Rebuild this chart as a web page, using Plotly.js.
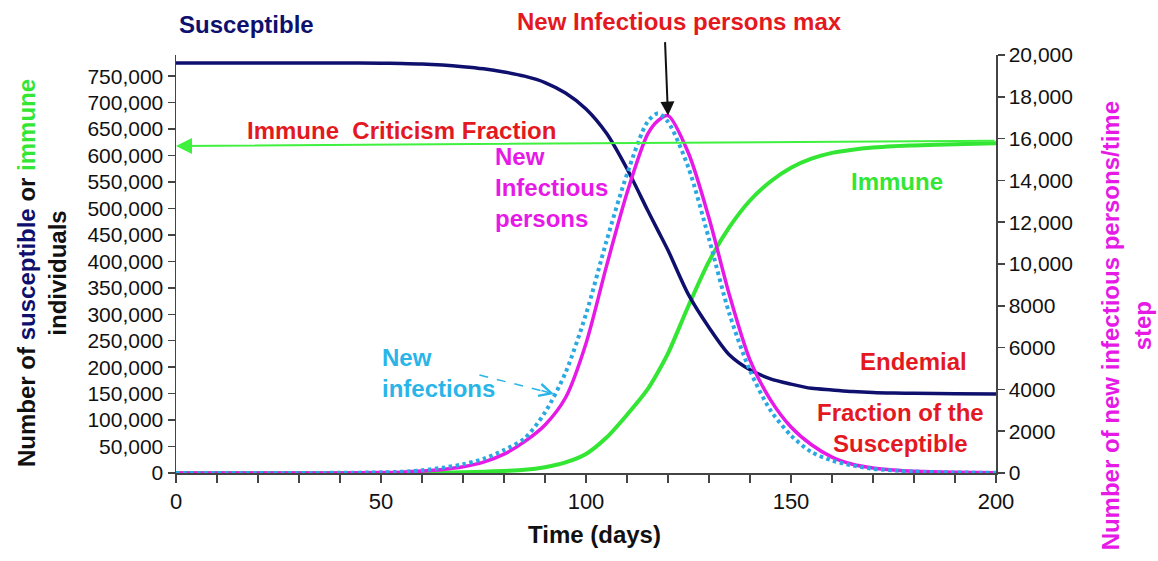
<!DOCTYPE html>
<html>
<head>
<meta charset="utf-8">
<script src="https://cdn.plot.ly/plotly-3.0.1.min.js"></script>
<style>
  html, body { margin: 0; padding: 0; background: #ffffff; }
  #chart { width: 1158px; height: 561px; }
</style>
</head>
<body>
<div id="chart"></div>
<script>
// ---- data ----
const days = [0, 10, 20, 30, 40, 50, 55, 60, 65, 70, 75, 80, 85, 90, 95, 100, 105, 110, 115, 117.5, 120,
              125, 130, 135, 140, 145, 150, 155, 160, 165, 170, 175, 180, 190, 200];

// left axis: number of individuals
const susceptible = [775000, 775000, 775000, 775000, 775000, 774500, 774000, 773000, 771000, 768000,
                     764000, 758000, 750000, 738000, 718000, 688000, 642000, 575000, 497000, 459000, 421000,
                     337000, 275000, 223000, 195000, 178000, 168000, 160000, 157000, 154000, 152000,
                     151000, 150500, 150000, 149500];
const immune = [0, 0, 0, 0, 0, 0, 200, 400, 800, 1500, 2500, 4000, 6000, 11000, 20000, 36000, 67000,
                110000, 158000, 190000, 226000, 316000, 400000, 465000, 515000, 551000, 577000, 594000, 605000,
                611000, 615000, 617500, 619000, 621500, 623000];

// right axis: new persons per time step
const newInfectiousPersons = [0, 0, 0, 0, 5, 20, 40, 90, 170, 300, 520, 900, 1500, 2300, 3600, 6200,
                              9900, 13400, 16200, 16850, 17100, 15300, 12200, 8500, 5400, 3500, 2200, 1350,
                              760, 420, 240, 140, 80, 30, 10];
const newInfections = [0, 0, 0, 0, 10, 30, 60, 130, 250, 420, 680, 1100, 1650, 2900, 4800, 7600, 11100,
                       14300, 16800, 17200, 16800, 14600, 11200, 7600, 4900, 3000, 1800, 1000, 600, 360, 200,
                       120, 70, 25, 10];

// herd-immunity ("Immune Criticism Fraction") reference line, left axis
const criticalFractionDays = [0, 200];
const criticalFractionValues = [618000, 628000];

// pointer to the "New infections" curve (right axis)
const newInfectionsPointerDays = [74, 92.2];
const newInfectionsPointerValues = [4690, 3780];

// tick labels
const xTickVals = [0, 50, 100, 150, 200];
const xTickText = ['0', '50', '100', '150', '200'];
const rightTickVals = [0, 2000, 4000, 6000, 8000, 10000, 12000, 14000, 16000, 18000, 20000];
const rightTickText = ['0', '2000', '4000', '6000', '8000', '10,000', '12,000', '14,000', '16,000', '18,000', '20,000'];

// ---- styling ----
const NAVY = '#0f0f6e';
const GREEN = '#33e633';
const MAGENTA = '#e619e6';
const BLUE = '#2aa8e2';
const RED = '#e3191f';
const FONT = 'Liberation Sans, Arial, Helvetica, sans-serif';

const traces = [
  { x: days, y: immune, type: 'scatter', mode: 'lines', name: 'Immune',
    line: { color: GREEN, width: 4, shape: 'spline', smoothing: 0.8 }, yaxis: 'y' },
  { x: days, y: susceptible, type: 'scatter', mode: 'lines', name: 'Susceptible',
    line: { color: NAVY, width: 3.5, shape: 'spline', smoothing: 0.8 }, yaxis: 'y' },
  { x: days, y: newInfectiousPersons, type: 'scatter', mode: 'lines', name: 'New Infectious persons',
    line: { color: MAGENTA, width: 3.5, shape: 'spline', smoothing: 0.8 }, yaxis: 'y2' },
  { x: days, y: newInfections, type: 'scatter', mode: 'lines', name: 'New infections',
    line: { color: BLUE, width: 4, dash: '3.5px,3.5px', shape: 'spline', smoothing: 0.8 }, yaxis: 'y2' }
];

// peak of new infectious persons (for the "max" arrow)
let peakIdx = 0;
newInfectiousPersons.forEach((v, i) => { if (v > newInfectiousPersons[peakIdx]) peakIdx = i; });

const bold = (s, c) => ({ text: '<b>' + s + '</b>', font: { family: FONT, size: 24, color: c } });

const annotations = [
  Object.assign({ xref: 'x', yref: 'paper', x: 17.1, y: 1.072, showarrow: false,
    xanchor: 'center', yanchor: 'middle' }, bold('Susceptible', NAVY)),
  Object.assign({ xref: 'x', yref: 'paper', x: 122.9, y: 1.079, showarrow: false,
    xanchor: 'center', yanchor: 'middle' }, bold('New Infectious persons max', RED)),
  // arrow to peak
  { xref: 'x', yref: 'y2', x: days[peakIdx], y: newInfectiousPersons[peakIdx], text: '',
    showarrow: true, ax: -3, ay: -75, arrowhead: 2, arrowsize: 1.4, arrowwidth: 2, arrowcolor: '#111' },
  Object.assign({ xref: 'x', yref: 'y', x: 54.9, y: 648000, showarrow: false,
    xanchor: 'center', yanchor: 'middle' }, bold('Immune&nbsp;&nbsp;Criticism Fraction', RED)),
  // critical fraction arrow line
  { xref: 'x', yref: 'y', axref: 'x', ayref: 'y',
    x: criticalFractionDays[0], y: criticalFractionValues[0],
    ax: criticalFractionDays[1], ay: criticalFractionValues[1], text: '',
    showarrow: true, arrowhead: 2, arrowsize: 1.6, arrowwidth: 2, arrowcolor: '#3ff03f' },
  Object.assign({ xref: 'x', yref: 'y', x: 77.3, y: 540000, showarrow: false,
    xanchor: 'left', yanchor: 'middle', align: 'left' }, bold('New<br>Infectious<br>persons', MAGENTA)),
  Object.assign({ xref: 'x', yref: 'y', x: 175.9, y: 550000, showarrow: false,
    xanchor: 'center', yanchor: 'middle' }, bold('Immune', GREEN)),
  Object.assign({ xref: 'x', yref: 'y', x: 179.8, y: 210000, showarrow: false,
    xanchor: 'center', yanchor: 'middle' }, bold('Endemial', RED)),
  Object.assign({ xref: 'x', yref: 'y', x: 176.8, y: 85000, showarrow: false,
    xanchor: 'center', yanchor: 'middle', align: 'center' }, bold('Fraction of the<br>Susceptible', RED)),
  Object.assign({ xref: 'x', yref: 'y', x: 49.8, y: 189000, showarrow: false,
    xanchor: 'left', yanchor: 'middle', align: 'left' }, bold('New<br>infections', '#29b5e8')),
  // arrowhead of the dashed pointer
  { xref: 'x', yref: 'y2', x: newInfectionsPointerDays[1], y: newInfectionsPointerValues[1], text: '',
    showarrow: true, ax: -14, ay: -4, arrowhead: 5, arrowsize: 1.6, arrowwidth: 1.5, arrowcolor: '#29b5e8' },
  // axis titles
  { xref: 'paper', yref: 'paper', x: -0.1634, y: 0.4785, textangle: -90, showarrow: false,
    xanchor: 'center', yanchor: 'middle', align: 'center',
    text: '<b>Number of <span style="color:' + NAVY + '">susceptible</span> or <span style="color:' + GREEN + '">immune</span><br>individuals</b>',
    font: { family: FONT, size: 24, color: '#111' } },
  { xref: 'paper', yref: 'paper', x: 1.159, y: 0.3517, textangle: -90, showarrow: false,
    xanchor: 'center', yanchor: 'middle', align: 'center',
    text: '<b>Number of new infectious persons/time<br>step</b>',
    font: { family: FONT, size: 24, color: MAGENTA } },
  { xref: 'paper', yref: 'paper', x: 0.51, y: -0.148, showarrow: false,
    xanchor: 'center', yanchor: 'middle',
    text: '<b>Time (days)</b>', font: { family: FONT, size: 24, color: '#111' } }
];

const shapes = [
  { type: 'line', xref: 'x', yref: 'y2',
    x0: newInfectionsPointerDays[0], y0: newInfectionsPointerValues[0],
    x1: newInfectionsPointerDays[1] - 2.5, y1: newInfectionsPointerValues[1] + 130,
    line: { color: '#29b5e8', width: 1.5, dash: 'dash' } }
];

const axisLine = '#444';
const layout = {
  width: 1158, height: 561,
  margin: { l: 176, r: 162, t: 55, b: 88, pad: 0 },
  paper_bgcolor: '#ffffff', plot_bgcolor: '#ffffff',
  showlegend: false,
  font: { family: FONT, size: 21, color: '#111' },
  xaxis: {
    range: [0, 200], showgrid: false, zeroline: false,
    showline: true, linecolor: axisLine, linewidth: 1.5,
    tickvals: xTickVals, ticktext: xTickText,
    ticks: 'outside', ticklen: 8, tickwidth: 1.5, tickcolor: axisLine,
    minor: { dtick: 10, ticks: 'outside', ticklen: 8, tickwidth: 1.5, tickcolor: axisLine },
    tickfont: { family: FONT, size: 22, color: '#111' }, automargin: false
  },
  yaxis: {
    range: [0, 790000], showgrid: false, zeroline: false,
    showline: true, linecolor: axisLine, linewidth: 1.5,
    dtick: 50000, tick0: 0, tickformat: ',',
    ticks: 'outside', ticklen: 7, tickwidth: 1.5, tickcolor: axisLine,
    tickfont: { family: FONT, size: 21, color: '#111' }, automargin: false
  },
  yaxis2: {
    range: [0, 20000], overlaying: 'y', side: 'right', showgrid: false, zeroline: false,
    showline: true, linecolor: axisLine, linewidth: 1.5,
    tickvals: rightTickVals, ticktext: rightTickText,
    ticks: 'outside', ticklen: 7, tickwidth: 1.5, tickcolor: axisLine,
    tickfont: { family: FONT, size: 21, color: '#111' }, automargin: false
  },
  annotations: annotations,
  shapes: shapes
};

Plotly.newPlot('chart', traces, layout, { staticPlot: true, displayModeBar: false });
</script>
</body>
</html>
